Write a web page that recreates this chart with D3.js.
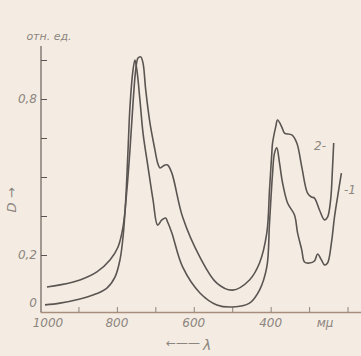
<!DOCTYPE html>
<html>
<head>
<meta charset="utf-8">
<script src="https://cdn.jsdelivr.net/npm/d3@7"></script>
<style>
  html, body { margin: 0; padding: 0; background: #f4ece2; }
  svg { display: block; font-family: "DejaVu Sans", sans-serif; }
</style>
</head>
<body>
<div id="chart"></div>
<script>
// wavelength, nm (мμ)
const wl1 = [987, 948, 896, 862, 826, 805, 792, 784, 777, 771, 766, 758, 753, 748, 740, 732, 719, 706, 694, 683, 673, 668, 657, 629, 584, 540, 499, 455, 429, 410, 403, 395, 390, 384, 377, 369, 356, 338, 330, 319, 312, 299, 286, 278, 268, 260, 252, 242, 234, 226, 216];
const d1 = [0.008, 0.015, 0.031, 0.046, 0.073, 0.115, 0.181, 0.269, 0.412, 0.604, 0.769, 0.912, 0.95, 0.912, 0.796, 0.669, 0.538, 0.412, 0.315, 0.335, 0.342, 0.327, 0.285, 0.154, 0.054, 0.008, 0.0, 0.015, 0.065, 0.154, 0.323, 0.515, 0.592, 0.612, 0.554, 0.477, 0.4, 0.354, 0.285, 0.219, 0.173, 0.169, 0.177, 0.204, 0.181, 0.162, 0.169, 0.246, 0.346, 0.423, 0.515];

const wl2 = [982, 948, 896, 852, 818, 797, 784, 774, 766, 758, 751, 745, 738, 732, 725, 714, 701, 694, 688, 675, 668, 657, 629, 584, 540, 499, 455, 429, 410, 403, 397, 395, 387, 382, 371, 364, 345, 332, 319, 304, 294, 286, 273, 260, 252, 244, 239, 236];
const d2 = [0.077, 0.085, 0.104, 0.135, 0.181, 0.231, 0.308, 0.45, 0.604, 0.785, 0.912, 0.958, 0.962, 0.938, 0.835, 0.708, 0.604, 0.554, 0.535, 0.546, 0.546, 0.515, 0.346, 0.192, 0.092, 0.065, 0.104, 0.169, 0.285, 0.45, 0.592, 0.631, 0.692, 0.719, 0.692, 0.669, 0.662, 0.631, 0.538, 0.438, 0.423, 0.419, 0.373, 0.335, 0.346, 0.412, 0.538, 0.631];

const xTicks = [900, 800, 700, 600, 500, 400, 300, 200];
const xLabels = {1000: '1000', 800: '800', 600: '600', 400: '400'};
const yTicks = [0.2, 0.35, 0.5, 0.65, 0.8, 0.95];
const yLabels = {0.2: '0,2', 0.8: '0,8'};

const width = 361, height = 356;
const ink = '#5a5552';
const pale = '#8c8580';

const svg = d3.select('#chart').append('svg')
  .attr('width', width)
  .attr('height', height);

const x = d3.scaleLinear().domain([1000, 165]).range([40, 361]);
const y = d3.scaleLinear().domain([0, 0.8]).range([307, 99]);

// x axis, ticks pointing up into the plot
const xAxis = svg.append('g')
  .attr('transform', 'translate(0,312)')
  .call(d3.axisBottom(x).tickValues(xTicks).tickSizeInner(-5).tickSizeOuter(0).tickFormat(''));
xAxis.select('.domain').attr('stroke', '#a88c7c').attr('stroke-width', 1.6);
xAxis.selectAll('.tick line').attr('stroke', pale);

svg.append('g').selectAll('text')
  .data(Object.keys(xLabels).map(Number))
  .join('text')
  .attr('x', d => x(d) + (d === 1000 ? 8 : 0))
  .attr('y', 327)
  .attr('text-anchor', 'middle')
  .attr('font-size', 12)
  .attr('font-style', 'italic')
  .attr('fill', pale)
  .text(d => xLabels[d]);

svg.append('text')
  .attr('x', 325).attr('y', 327)
  .attr('text-anchor', 'middle')
  .attr('font-size', 12).attr('font-style', 'italic')
  .attr('fill', pale)
  .text('мμ');

svg.append('text')
  .attr('x', 200).attr('y', 347)
  .attr('text-anchor', 'end')
  .attr('font-size', 12)
  .attr('fill', pale)
  .text('←——');
svg.append('text')
  .attr('x', 203).attr('y', 350)
  .attr('font-size', 14).attr('font-style', 'italic')
  .attr('fill', pale)
  .text('λ');

// y axis, ticks to the right
const yAxis = svg.append('g')
  .attr('transform', 'translate(41,0)')
  .call(d3.axisRight(y).tickValues(yTicks).tickSizeInner(6).tickSizeOuter(0).tickFormat(''));
yAxis.select('.domain').attr('d', 'M0,46V312').attr('stroke', '#7d7470').attr('stroke-width', 1.4);
yAxis.selectAll('.tick line').attr('stroke', ink);

svg.append('g').selectAll('text')
  .data([0.2, 0.8])
  .join('text')
  .attr('x', 37)
  .attr('y', d => y(d) + 4)
  .attr('text-anchor', 'end')
  .attr('font-size', 12)
  .attr('font-style', 'italic')
  .attr('fill', pale)
  .text(d => yLabels[d]);

svg.append('text')
  .attr('x', 37).attr('y', 307)
  .attr('text-anchor', 'end')
  .attr('font-size', 12).attr('font-style', 'italic')
  .attr('fill', pale)
  .text('0');

svg.append('text')
  .attr('x', 49).attr('y', 40)
  .attr('text-anchor', 'middle')
  .attr('font-size', 11).attr('font-style', 'italic')
  .attr('fill', pale)
  .text('отн. ед.');

svg.append('text')
  .attr('transform', 'translate(16,200) rotate(-90)')
  .attr('text-anchor', 'middle')
  .attr('font-size', 13).attr('font-style', 'italic')
  .attr('fill', pale)
  .text('D →');

// curves
const line = d3.line()
  .x(d => x(d[0]))
  .y(d => y(d[1]))
  .curve(d3.curveCatmullRom.alpha(0.5));

const series = [
  {name: '1', pts: d3.zip(wl1, d1)},
  {name: '2', pts: d3.zip(wl2, d2)}
];

svg.append('g').selectAll('path')
  .data(series)
  .join('path')
  .attr('d', d => line(d.pts))
  .attr('fill', 'none')
  .attr('stroke', ink)
  .attr('stroke-width', 1.6);

// curve labels with leaders
svg.append('text')
  .attr('x', 326).attr('y', 150)
  .attr('text-anchor', 'end')
  .attr('font-size', 12).attr('font-style', 'italic')
  .attr('fill', pale)
  .text('2-');
svg.append('text')
  .attr('x', 344).attr('y', 194)
  .attr('font-size', 12).attr('font-style', 'italic')
  .attr('fill', pale)
  .text('-1');
</script>
</body>
</html>
